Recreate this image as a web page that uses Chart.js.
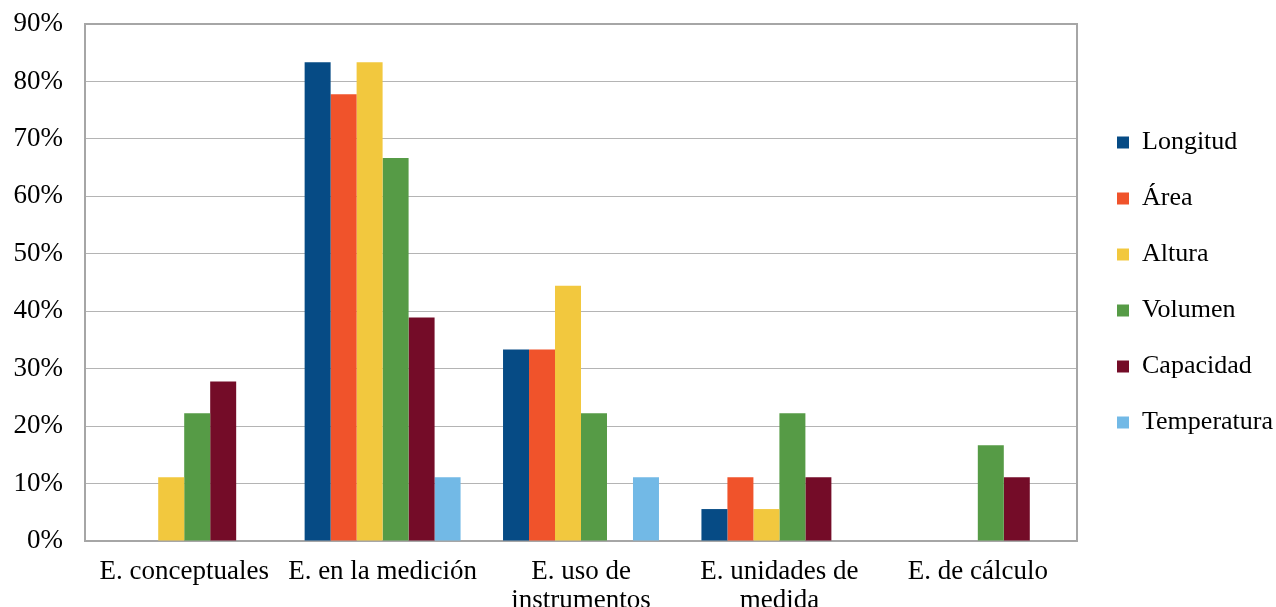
<!DOCTYPE html>
<html><head><meta charset="utf-8">
<script src="https://cdn.jsdelivr.net/npm/chart.js@4"></script>
<style>html,body{margin:0;padding:0;background:#fff}#w{width:1276px;height:607px}</style>
</head><body><div id="w"><canvas id="c"></canvas></div>
<script>
const categories = ["E. conceptuales", "E. en la medición", ["E. uso de", "instrumentos"], ["E. unidades de", "medida"], "E. de cálculo"];
const seriesNames = ["Longitud", "Área", "Altura", "Volumen", "Capacidad", "Temperatura"];
const longitud    = [0, 83.33, 33.33, 5.56, 0];
const area        = [0, 77.78, 33.33, 11.11, 0];
const altura      = [11.11, 83.33, 44.44, 5.56, 0];
const volumen     = [22.22, 66.67, 22.22, 22.22, 16.67];
const capacidad   = [27.78, 38.89, 0, 11.11, 11.11];
const temperatura = [0, 11.11, 11.11, 0, 0];
const seriesValues = [longitud, area, altura, volumen, capacidad, temperatura];
const colors = ["#064B85", "#F0532B", "#F2C83E", "#569B46", "#740C28", "#72B9E6"];
const yTicks = [0, 10, 20, 30, 40, 50, 60, 70, 80, 90];

const FONT = "'Liberation Serif', 'Times New Roman', serif";

const frame = {
  id: 'frame',
  beforeDatasetsDraw(chart) {
    const a = chart.chartArea, ctx = chart.ctx;
    ctx.save();
    ctx.strokeStyle = '#A6A6A6';
    ctx.lineWidth = 2;
    ctx.strokeRect(a.left, a.top, a.right - a.left, a.bottom - a.top);
    ctx.restore();
  }
};

new Chart(document.getElementById('c'), {
  type: 'bar',
  data: {
    labels: categories,
    datasets: seriesNames.map((n, i) => ({
      label: n, data: seriesValues[i], backgroundColor: colors[i], borderWidth: 0,
      categoryPercentage: 0.786, barPercentage: 1
    }))
  },
  options: {
    responsive: true, maintainAspectRatio: false, animation: false,
    layout: { padding: { top: 24, right: -7, bottom: 0, left: 0 } },
    plugins: {
      tooltip: { enabled: false },
      legend: {
        position: 'right', align: 'center', fullSize: false,
        labels: {
          boxWidth: 12, boxHeight: 12, padding: 30, color: '#000',
          font: { family: FONT, size: 26 }
        }
      }
    },
    scales: {
      x: {
        grid: { display: false, drawTicks: false },
        border: { display: false },
        ticks: { color: '#000', font: { family: FONT, size: 27, lineHeight: 1.06 }, padding: 17, maxRotation: 0, autoSkip: false },
        afterFit(s) { s.height = 66; }
      },
      y: {
        min: 0, max: 90,
        afterBuildTicks(s) { s.ticks = yTicks.map(v => ({ value: v })); },
        grid: { color: '#B4B4B4', lineWidth: 1, drawTicks: false },
        border: { display: false },
        ticks: { color: '#000', font: { family: FONT, size: 27 }, padding: 22, callback: v => v + '%' },
        afterFit(s) { s.width = 85; s.paddingTop = 0; s.paddingBottom = 0; }
      },
      gap: {
        type: 'linear', position: 'right', display: true,
        grid: { display: false, drawTicks: false },
        border: { display: false },
        ticks: { display: false },
        afterFit(s) { s.width = 10; s.paddingTop = 0; s.paddingBottom = 0; }
      }
    }
  },
  plugins: [frame]
});
</script></body></html>
